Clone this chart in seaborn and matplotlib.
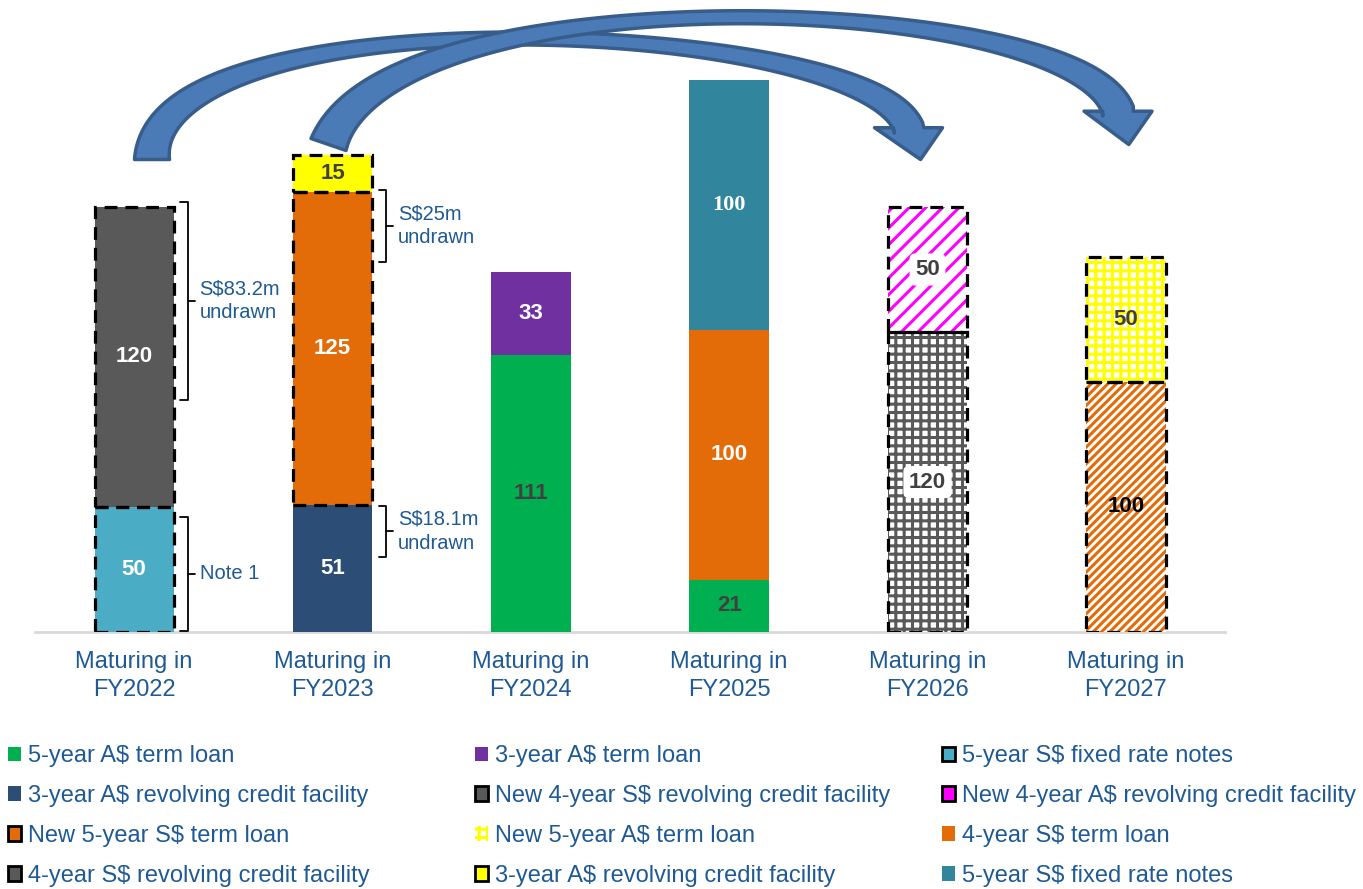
import numpy as np
import pandas as pd
import matplotlib
matplotlib.use('Agg')
import matplotlib.pyplot as plt
import seaborn as sns
from matplotlib.patches import Patch, Polygon

# ---- data ----
categories = ['Maturing in\nFY2022', 'Maturing in\nFY2023', 'Maturing in\nFY2024',
              'Maturing in\nFY2025', 'Maturing in\nFY2026', 'Maturing in\nFY2027']

series_names = [
    '5-year A$ term loan',
    '3-year A$ term loan',
    '5-year S$ fixed rate notes',
    '3-year A$ revolving credit facility',
    'New 4-year S$ revolving credit facility',
    'New 4-year A$ revolving credit facility',
    'New 5-year S$ term loan',
    'New 5-year A$ term loan',
    '4-year S$ term loan',
    '4-year S$ revolving credit facility',
    '3-year A$ revolving credit facility',
    '5-year S$ fixed rate notes',
]

# stacked segments, bottom to top inside each category
seg_category = [0, 0, 1, 1, 1, 2, 2, 3, 3, 3, 4, 4, 5, 5]
seg_series = [2, 9, 3, 8, 10, 0, 1, 0, 8, 11, 4, 5, 6, 7]
seg_values = [50, 120, 51, 125, 15, 111, 33, 21, 100, 100, 120, 50, 100, 50]

# brackets with notes (category, low, high, text)
brace_category = [0, 0, 1, 1]
brace_low = [93, 0.5, 148, 30]
brace_high = [172, 46, 177, 50.5]
brace_text = ['S$83.2m\nundrawn', 'Note 1', 'S$25m\nundrawn', 'S$18.1m\nundrawn']

# ---- styles ----
BLUE_TXT = '#1F5A94'
series_face = ['#00B050', '#7030A0', '#4BACC6', '#2C4D75', 'white', 'white',
               'white', 'white', '#E36C09', '#595959', '#FFFF00', '#31859C']
series_hatch = [None, None, None, None, '++', '//', '////', '++', None, None, None, None]
series_hatchcolor = [None, None, None, None, '#595959', '#FF00FF', '#E36C09', '#FFFF00',
                     None, None, None, None]
legend_face = ['#00B050', '#7030A0', '#4BACC6', '#2C4D75', '#595959', '#FF00FF',
               '#E36C09', '#FFFF00', '#E36C09', '#595959', '#FFFF00', '#31859C']
legend_border = [False, False, True, False, True, True, True, False, False, True, True, False]

seg_dashed = [True, True, False, True, True, False, False, False, False, False,
              True, True, True, True]
seg_label_color = ['white', 'white', 'white', 'white', '#404040', '#404040', 'white',
                   '#404040', 'white', 'white', '#404040', '#404040', 'black', '#404040']
seg_label_box = [False] * 10 + [True, True, False, False]
seg_label_serif = [False] * 9 + [True] + [False] * 4

sns.set_style('white')
plt.rcParams['font.family'] = ['Liberation Sans', 'DejaVu Sans']
plt.rcParams['hatch.linewidth'] = 2.2

df = pd.DataFrame({
    'category': [categories[c] for c in seg_category],
    'series': seg_series,
    'value': seg_values,
})
df['bottom'] = df.groupby('category', sort=False)['value'].cumsum() - df['value']

fig = plt.figure(figsize=(13.63, 8.89), dpi=100)
ax = fig.add_axes([35 / 1363, 257 / 889, 1190 / 1363, 632 / 889])

dash = (0, (4, 2.5))
for i, row in df.iterrows():
    s = row['series']
    hc = series_hatchcolor[s] or series_face[s]
    sns.barplot(x=[row['category']], y=[row['value']], order=categories,
                bottom=row['bottom'], width=0.4, color=series_face[s], saturation=1,
                hatch=series_hatch[s], edgecolor=hc, linewidth=0,
                errorbar=None, ax=ax, zorder=2)
    if seg_dashed[i]:
        sns.barplot(x=[row['category']], y=[row['value']], order=categories,
                    bottom=row['bottom'], width=0.4, fill=False, color='black',
                    linewidth=2.3, linestyle=dash, errorbar=None, ax=ax, zorder=3)

ax.set_xlim(-0.5, 5.5)
ax.set_ylim(0, 252.8)

# value labels
for i, row in df.iterrows():
    c = seg_category[i]
    kw = dict(ha='center', va='center', fontsize=16, fontweight='bold',
              color=seg_label_color[i], zorder=4)
    if seg_label_serif[i]:
        kw['family'] = ['Liberation Serif', 'DejaVu Serif']
    if seg_label_box[i]:
        kw['bbox'] = dict(facecolor='white', edgecolor='none', boxstyle='round,pad=0.25')
    ax.text(c, row['bottom'] + row['value'] / 2, str(row['value']), **kw)

# brackets
for c, lo, hi, txt in zip(brace_category, brace_low, brace_high, brace_text):
    x0, xv, xn = c + 0.232, c + 0.272, c + 0.305
    mid = (lo + hi) / 2
    ax.plot([x0, xv, xv, x0], [hi, hi, lo, lo], color='black', lw=1.3,
            solid_joinstyle='round', zorder=3)
    ax.plot([xv, xn], [mid, mid], color='black', lw=1.3, zorder=3)
    ax.text(c + 0.33, mid, txt, ha='left', va='center', fontsize=14.5,
            color=BLUE_TXT, linespacing=1.35)

# axes styling
ax.set_xticks(range(len(categories)))
ax.set_xticklabels(categories, fontsize=17, color=BLUE_TXT, linespacing=1.3)
ax.tick_params(axis='x', length=0, pad=14)
ax.set_yticks([])
ax.set_xlabel('')
ax.set_ylabel('')
for side in ['left', 'top', 'right']:
    ax.spines[side].set_visible(False)
ax.spines['bottom'].set_color('#D9D9D9')
ax.spines['bottom'].set_linewidth(2)
ax.spines['bottom'].set_zorder(1)


def block_arrow(start, tip, head_dir, rise, pull, shift, head_len, head_half,
                w0, wm, w1):
    T = ax.transData
    p0 = T.transform(start)
    tp = T.transform(tip)
    d = np.array(head_dir, float)
    d /= np.hypot(*d)
    p3 = tp - d * head_len
    p1 = p0 + np.array([shift, rise])
    p2 = p3 - d * pull
    t = np.linspace(0, 1, 150)[:, None]
    pts = (1 - t) ** 3 * p0 + 3 * (1 - t) ** 2 * t * p1 + 3 * (1 - t) * t ** 2 * p2 + t ** 3 * p3
    der = 3 * (1 - t) ** 2 * (p1 - p0) + 6 * (1 - t) * t * (p2 - p1) + 3 * t ** 2 * (p3 - p2)
    der /= np.linalg.norm(der, axis=1)[:, None]
    nrm = np.column_stack([-der[:, 1], der[:, 0]])
    tt = t[:, 0]
    w = np.where(tt < 0.5, wm + (w0 - wm) * (1 - 2 * tt) ** 2,
                 wm + (w1 - wm) * (2 * tt - 1) ** 2)
    left = pts + nrm * w[:, None] / 2
    right = pts - nrm * w[:, None] / 2
    # head with a level base, as in the slide
    head = np.array([p3 + [head_half * 0.45, 0], p3 + [head_half, 0], tp,
                     p3 - [head_half, 0], p3 - [head_half * 0.45, 0]])
    poly = np.vstack([left, head, right[::-1]])
    poly = T.inverted().transform(poly)
    ax.add_patch(Polygon(poly, closed=True, facecolor='#4A7BB7', edgecolor='#385D8A',
                         lw=2.5, joinstyle='round', clip_on=False, zorder=6))


block_arrow((0.09, 189), (3.965, 189), (12.5, -33), rise=170, pull=118, shift=0,
            head_len=34, head_half=34, w0=35, wm=13, w1=30)
block_arrow((0.98, 195), (5.015, 195), (11, -34), rise=175, pull=126, shift=60,
            head_len=35, head_half=34, w0=37, wm=13, w1=32)

# legend in three columns, row-major order
handles = []
for k, name in enumerate(series_names):
    if legend_border[k]:
        h = Patch(facecolor=legend_face[k], edgecolor='black', lw=2, label=name)
    elif series_hatch[k] == '++':
        h = Patch(facecolor='white', edgecolor=legend_face[k], hatch='++', lw=0, label=name)
    else:
        h = Patch(facecolor=legend_face[k], edgecolor='none', lw=0, label=name)
    handles.append(h)

col_items = [[0, 3, 6, 9], [1, 4, 7, 10], [2, 5, 8, 11]]
col_x = [8, 475, 942]
for cx, items in zip(col_x, col_items):
    fig.legend(handles=[handles[k] for k in items], loc='upper left',
               bbox_to_anchor=(cx / 1363, 1 - 745 / 889), frameon=False, fontsize=17,
               handlelength=0.55, handleheight=0.55, handletextpad=0.3,
               labelspacing=0.76, borderpad=0, borderaxespad=0, labelcolor=BLUE_TXT)

fig.savefig('out.png', dpi=100)
